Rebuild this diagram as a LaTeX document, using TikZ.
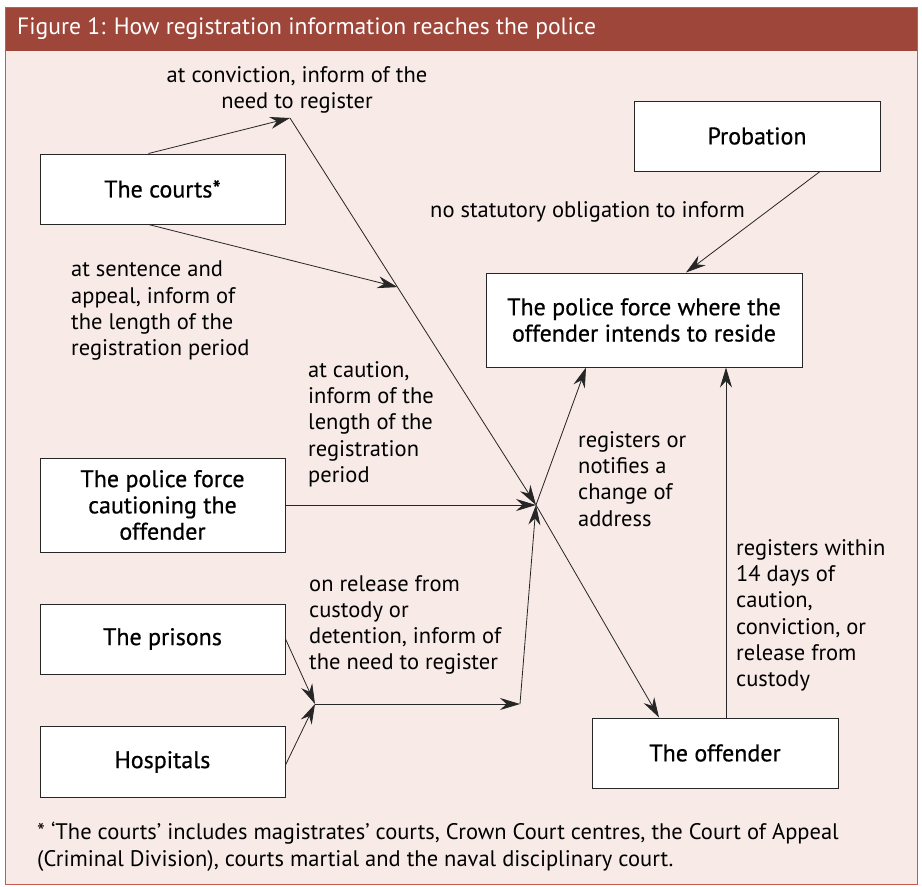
\documentclass[tikz,border=0pt]{standalone}
\usepackage{fontspec}
\setmainfont{PT Sans}
\newfontfamily\boxfont[FakeBold=0.6]{PT Sans}
\usetikzlibrary{arrows.meta, calc}

\definecolor{barred}{RGB}{158,70,58}
\definecolor{panel}{RGB}{247,234,231}
\definecolor{rim}{RGB}{196,90,80}

\begin{document}
\begin{tikzpicture}[x=1pt,y=-1pt,font=\fontsize{22.5}{26.3}\selectfont,
    stage/.style={draw=black!85, line width=1pt, fill=white, minimum width=245pt,
                  minimum height=70pt, align=center, inner sep=0pt,
                  font=\boxfont\fontsize{24}{26.3}\selectfont},
    note/.style={align=left, anchor=north west, inner sep=0pt},
    flow/.style={draw=black!85, line width=0.8pt, -{Stealth[length=20pt,width=12pt]}}]
    \useasboundingbox (0,0) rectangle (922,887);
    \fill[panel] (5,7) rectangle (917,884);
    \fill[barred] (5,7) rectangle (917,51);
    \draw[rim, line width=1pt] (5,7) rectangle (917,884);
    \node[anchor=west, text=white, inner sep=0pt, font=\fontsize{23.6}{26}\selectfont] (title) at (17,29)
        {Figure 1: How registration information reaches the police};

    \node[stage] (courts) at (162.5,189) {The courts*};
    \node[stage, minimum width=246pt] (probation) at (757,136) {Probation};
    \node[stage, minimum width=316pt, minimum height=94pt] (reside) at (644,320)
        {The police force where the\\offender intends to reside};
    \node[stage, minimum height=94pt] (caution) at (162.5,505)
        {The police force\\cautioning the\\offender};
    \node[stage] (prisons) at (162.5,639) {The prisons};
    \node[stage, minimum height=71pt] (hospitals) at (162.5,762) {Hospitals};
    \node[stage, minimum width=246pt] (offender) at (715,753) {The offender};

    \coordinate (conv) at (290,118);
    \coordinate (hub) at (536,505);
    \coordinate (gate) at (315,704);
    \coordinate (lift) at (520,704);
    \coordinate (sent) at ($(conv)!0.437!(hub)$);

    \draw[flow] ([xshift=-14pt]courts.north) -- (conv);
    \draw[flow] (conv) -- (hub);
    \draw[flow] ([xshift=-14pt]courts.south) -- (sent);
    \draw[flow] (caution.east) -- (hub);
    \draw[flow] (prisons.east) -- (gate);
    \draw[flow] ([yshift=-3pt]hospitals.east) -- (gate);
    \draw[flow] (gate) -- (lift);
    \draw[flow] (lift) -- (hub);
    \draw[flow] (hub) -- ([xshift=-56pt]offender.north);
    \draw[flow] (hub) -- ([xshift=-58pt]reside.south);
    \draw[flow] ([xshift=11pt]offender.north) -- ([xshift=11pt]offender.north |- reside.south);
    \draw[flow] ([xshift=63pt]probation.south) -- ([xshift=42pt]reside.north);

    \node[note, align=center, anchor=north] (convnote) at (297,66)
        {at conviction, inform of the\\need to register};
    \node[note] (sentnote) at (71,261)
        {at sentence and\\appeal, inform of\\the length of the\\registration period};
    \node[note] (cautnote) at (308,361)
        {at caution,\\inform of the\\length of the\\registration\\period};
    \node[note] (regnote) at (578,431)
        {registers or\\notifies a\\change of\\address};
    \node[note] (probnote) at (430,201) {no statutory obligation to inform};
    \node[note] (relnote) at (309,575)
        {on release from\\custody or\\detention, inform of\\the need to register};
    \node[note] (daysnote) at (736,539)
        {registers within\\14 days of\\caution,\\conviction, or\\release from\\custody};
    \node[note] (footnote) at (37,822)
        {* ‘The courts’ includes magistrates’ courts, Crown Court centres, the Court of Appeal\\(Criminal Division), courts martial and the naval disciplinary court.};
\end{tikzpicture}
\end{document}
